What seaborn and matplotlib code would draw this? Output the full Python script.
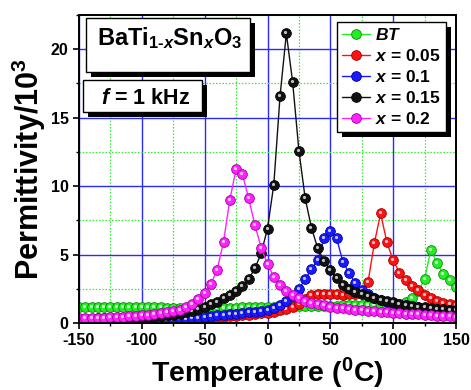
import matplotlib
matplotlib.use("Agg")
import matplotlib.pyplot as plt
from matplotlib.patches import Rectangle
from matplotlib.lines import Line2D
from matplotlib.ticker import MultipleLocator
from matplotlib import transforms
import seaborn as sns
import pandas as pd

# Temperature grid (deg C)
temperature = [-150, -145, -140, -135, -130, -125, -120, -115, -110, -105,
               -100, -95, -90, -85, -80, -75, -70, -65, -60, -55,
               -50, -45, -40, -35, -30, -25, -20, -15, -10, -5,
               0, 5, 10, 15, 20, 25, 30, 35, 40, 45,
               50, 55, 60, 65, 70, 75, 80, 85, 90, 95,
               100, 105, 110, 115, 120, 125, 130, 135, 140, 145, 150]

# Permittivity / 10^3 for each composition
eps_bt = [1.18, 1.18, 1.17, 1.17, 1.17, 1.16, 1.16, 1.16, 1.15, 1.15,
          1.15, 1.14, 1.14, 1.14, 1.13, 1.13, 1.13, 1.13, 1.12, 1.12,
          1.12, 1.12, 1.12, 1.13, 1.13, 1.13, 1.14, 1.14, 1.15, 1.16,
          1.17, 1.18, 1.19, 1.20, 1.21, 1.22, 1.23, 1.24, 1.25, 1.26,
          1.27, 1.27, 1.28, 1.28, 1.28, 1.28, 1.28, 1.29, 1.30, 1.31,
          1.32, 1.42, 1.55, 1.80, 2.35, 3.20, 5.35, 4.36, 3.55, 3.14, 2.65]

eps_x005 = [0.12, 0.13, 0.14, 0.15, 0.16, 0.17, 0.18, 0.19, 0.20, 0.21,
            0.22, 0.23, 0.25, 0.26, 0.28, 0.30, 0.31, 0.33, 0.35, 0.37,
            0.39, 0.41, 0.43, 0.46, 0.49, 0.52, 0.56, 0.60, 0.65, 0.70,
            0.76, 0.84, 0.92, 1.02, 1.19, 1.40, 1.75, 2.08, 2.12, 2.14,
            2.12, 2.10, 2.08, 2.10, 2.15, 2.30, 3.00, 5.82, 8.00, 5.90,
            4.58, 3.68, 3.12, 2.68, 2.38, 2.07, 1.80, 1.62, 1.47, 1.36, 1.28]

eps_x010 = [0.10, 0.10, 0.11, 0.11, 0.12, 0.12, 0.13, 0.14, 0.15, 0.16,
            0.17, 0.18, 0.20, 0.21, 0.23, 0.25, 0.27, 0.30, 0.34, 0.40,
            0.46, 0.50, 0.55, 0.60, 0.64, 0.68, 0.73, 0.78, 0.84, 0.90,
            0.98, 1.10, 1.30, 1.60, 2.00, 2.46, 3.21, 3.94, 4.60, 6.18,
            6.74, 6.18, 4.47, 3.63, 2.90, 2.42, 2.10, 1.85, 1.66, 1.53,
            1.43, 1.35, 1.28, 1.22, 1.16, 1.10, 1.05, 1.00, 0.96, 0.92, 0.88]

eps_x015 = [0.30, 0.31, 0.32, 0.33, 0.34, 0.35, 0.37, 0.39, 0.41, 0.43,
            0.45, 0.47, 0.50, 0.53, 0.56, 0.60, 0.68, 0.78, 0.90, 1.03,
            1.19, 1.39, 1.55, 1.80, 2.04, 2.33, 2.70, 3.20, 4.00, 5.10,
            6.90, 10.1, 16.6, 21.15, 17.6, 12.58, 9.10, 6.95, 5.45, 4.55,
            3.85, 3.26, 2.77, 2.50, 2.30, 2.12, 1.97, 1.83, 1.71, 1.60,
            1.50, 1.42, 1.34, 1.27, 1.20, 1.14, 1.09, 1.04, 1.00, 0.96, 0.92]

eps_x020 = [0.34, 0.35, 0.36, 0.38, 0.39, 0.41, 0.43, 0.45, 0.48, 0.51,
            0.55, 0.59, 0.64, 0.70, 0.77, 0.86, 0.98, 1.15, 1.40, 1.75,
            2.17, 2.85, 3.90, 5.93, 9.00, 11.24, 10.9, 9.10, 7.15, 5.50,
            4.30, 3.38, 2.77, 2.34, 2.04, 1.80, 1.62, 1.48, 1.37, 1.28,
            1.20, 1.13, 1.07, 1.02, 0.97, 0.93, 0.89, 0.85, 0.81, 0.78,
            0.75, 0.72, 0.69, 0.66, 0.63, 0.60, 0.57, 0.54, 0.51, 0.48, 0.45]

series_labels = ["$BT$", "$x$ = 0.05", "$x$ = 0.1", "$x$ = 0.15", "$x$ = 0.2"]
series_values = [eps_bt, eps_x005, eps_x010, eps_x015, eps_x020]
face_colors = ["#22ee22", "#ff1111", "#1a1aff", "#111111", "#ff22ff"]
edge_colors = ["#0a8a0a", "#a00000", "#00009a", "#000000", "#a000a0"]

x_ticks = [-150, -100, -50, 0, 50, 100, 150]
y_ticks = [0, 5, 10, 15, 20]

sns.set_style("ticks")
plt.rcParams["font.family"] = ["Liberation Sans", "DejaVu Sans"]
plt.rcParams["font.weight"] = "bold"
plt.rcParams["text.color"] = "black"
plt.rcParams["axes.labelcolor"] = "black"
plt.rcParams["xtick.color"] = "black"
plt.rcParams["ytick.color"] = "black"
plt.rcParams["axes.unicode_minus"] = False
plt.rcParams["mathtext.fontset"] = "custom"
plt.rcParams["mathtext.rm"] = "Liberation Sans:bold"
plt.rcParams["mathtext.it"] = "Liberation Sans:italic:bold"
plt.rcParams["mathtext.bf"] = "Liberation Sans:bold"

W, H = 471, 390
fig = plt.figure(figsize=(W / 100, H / 100), dpi=100)
AX_L, AX_R, AX_T, AX_B = 79, 456, 15, 323
ax = fig.add_axes([AX_L / W, 1 - AX_B / H, (AX_R - AX_L) / W, (AX_B - AX_T) / H])


def axfrac(px, py):
    """Pixel position (from top-left of figure) -> axes fraction."""
    return (px - AX_L) / (AX_R - AX_L), (AX_B - py) / (AX_B - AX_T)


frames = []
for lab, vals in zip(series_labels, series_values):
    frames.append(pd.DataFrame({"T": temperature, "eps": vals, "sample": lab}))
df = pd.concat(frames, ignore_index=True)

# small offset for the specular highlight on each ball marker
hl_trans = transforms.offset_copy(ax.transData, fig=fig, x=-1.0, y=1.0, units="dots")

MS = 7.0
for i, (lab, fc, ec) in enumerate(zip(series_labels, face_colors, edge_colors)):
    sub = df[df["sample"] == lab]
    sns.lineplot(data=sub, x="T", y="eps", ax=ax, color=fc, linewidth=1.0,
                 marker="o", markersize=MS, markerfacecolor=fc,
                 markeredgecolor=ec, markeredgewidth=0.6, zorder=3 + i,
                 legend=False)
    ax.plot(sub["T"], sub["eps"], linestyle="none", marker="o", markersize=2.3,
            markerfacecolor="white", markeredgecolor="none", alpha=0.75,
            transform=hl_trans, zorder=3 + i)

ax.set_xlim(-150, 150)
ax.set_ylim(0, 22.5)
ax.set_xticks(x_ticks)
ax.set_yticks(y_ticks)
ax.xaxis.set_minor_locator(MultipleLocator(25))
ax.yaxis.set_minor_locator(MultipleLocator(2.5))

ax.grid(which="major", color="#2a2aff", linewidth=1.0, linestyle="-", zorder=0)
ax.grid(which="minor", color="#33ee33", linewidth=0.9, linestyle=(0, (1.2, 1.4)), zorder=0)
ax.set_axisbelow(True)

for s in ax.spines.values():
    s.set_color("black")
    s.set_linewidth(1.4)
    s.set_zorder(10)

ax.tick_params(which="major", direction="out", length=4, width=1.2, labelsize=11.5,
               pad=3.5, colors="black")
ax.tick_params(which="minor", direction="out", length=2.5, width=1.0)
ax.tick_params(top=False, right=False, which="both")
for t in ax.get_xticklabels() + ax.get_yticklabels():
    t.set_fontweight("bold")

ax.set_xlabel(r"Temperature ($^{\mathrm{0}}$C)", fontsize=20.5, fontweight="bold", labelpad=5)
ax.set_ylabel(r"Permittivity/10$^{\mathrm{3}}$", fontsize=22, fontweight="bold", labelpad=2)

# Annotation boxes with drop shadows
SH = 5


def shadow_box(x0, y0, x1, y1, z=8):
    ax0, ay1 = axfrac(x0, y0)
    ax1, ay0 = axfrac(x1, y1)
    sx, sy = SH / (AX_R - AX_L), SH / (AX_B - AX_T)
    ax.add_patch(Rectangle((ax0 + sx, ay0 - sy), ax1 - ax0, ay1 - ay0,
                           transform=ax.transAxes, facecolor="black",
                           edgecolor="none", zorder=z, clip_on=False))
    ax.add_patch(Rectangle((ax0, ay0), ax1 - ax0, ay1 - ay0,
                           transform=ax.transAxes, facecolor="white",
                           edgecolor="black", linewidth=1.0, zorder=z + 0.1,
                           clip_on=False))


shadow_box(86, 18, 250, 72)
tx, ty = axfrac(170, 45)
ax.text(tx, ty, r"BaTi$_{\text{1-}x}$Sn$_{x}$O$_{3}$", transform=ax.transAxes,
        ha="center", va="baseline", fontsize=17, fontweight="bold", zorder=9)

shadow_box(83, 80, 202, 112)
tx, ty = axfrac(146, 104)
ax.text(tx, ty, r"$f$ = 1 kHz", transform=ax.transAxes,
        ha="center", va="baseline", fontsize=15.5, fontweight="bold", zorder=9)

# Legend
handles = []
for lab, fc, ec in zip(series_labels, face_colors, edge_colors):
    handles.append(Line2D([], [], color=fc, linewidth=1.0, marker="o", markersize=MS,
                          markerfacecolor=fc, markeredgecolor=ec, markeredgewidth=0.6))
lx, ly = axfrac(446, 22)
leg = ax.legend(handles, series_labels, loc="upper right", bbox_to_anchor=(lx, ly),
                bbox_transform=ax.transAxes, borderaxespad=0, frameon=True,
                fancybox=False, framealpha=1, edgecolor="black",
                prop={"size": 12.5, "weight": "bold"}, handlelength=1.6,
                handletextpad=0.3, labelspacing=0.28, borderpad=0.3)
leg.get_frame().set_linewidth(1.0)
leg.set_zorder(12)

fig.canvas.draw()
bb = leg.get_frame().get_window_extent(fig.canvas.get_renderer())
inv = ax.transAxes.inverted()
(bx0, by0), (bx1, by1) = inv.transform([[bb.x0 + SH, bb.y0 - SH], [bb.x1 + SH, bb.y1 - SH]])
ax.add_patch(Rectangle((bx0, by0), bx1 - bx0, by1 - by0, transform=ax.transAxes,
                       facecolor="black", edgecolor="none", zorder=11.5, clip_on=False))

fig.savefig("out.png", dpi=100)
